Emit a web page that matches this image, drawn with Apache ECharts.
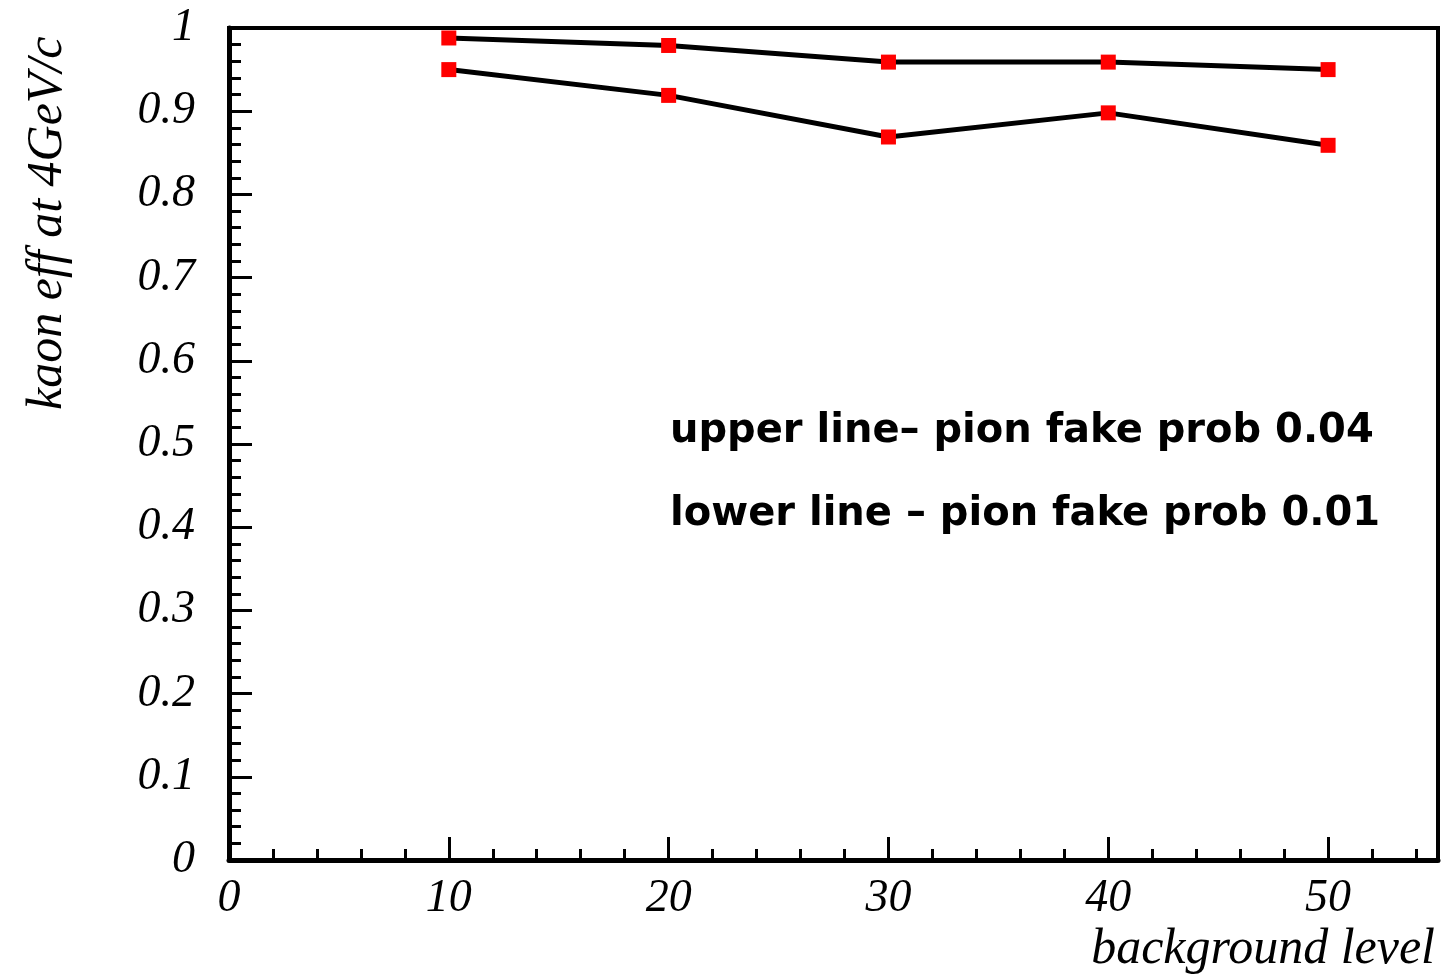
<!DOCTYPE html>
<html>
<head>
<meta charset="utf-8">
<script src="https://cdn.jsdelivr.net/npm/echarts@6/dist/echarts.min.js"></script>
<style>
html,body{margin:0;padding:0;background:#fff;}
#chart{width:1453px;height:979px;}
</style>
</head>
<body>
<div id="chart"></div>
<script>
const backgroundLevels = [10, 20, 30, 40, 50];
const upperLine = [0.988, 0.979, 0.959, 0.959, 0.950];
const lowerLine = [0.950, 0.919, 0.869, 0.898, 0.859];
const xTitle = 'background level';
const yTitle = 'kaon eff at 4GeV/c';
const noteUpper = 'upper line\u2013 pion fake prob 0.04';
const noteLower = 'lower line \u2013 pion fake prob 0.01';

const chart = echarts.init(document.getElementById('chart'), null, {renderer: 'canvas'});
const serif = "'Times New Roman', 'Liberation Serif', Tinos, serif";
const pairs = arr => backgroundLevels.map((x, i) => [x, arr[i]]);

const seriesStyle = {
  type: 'line',
  xAxisIndex: 0,
  yAxisIndex: 0,
  symbol: 'rect',
  symbolSize: 15,
  itemStyle: {color: '#ff0000'},
  lineStyle: {color: '#000', width: 5},
  z: 3,
  animation: false
};

chart.setOption({
  animation: false,
  backgroundColor: '#fff',
  grid: {left: 229, right: 15, top: 28, bottom: 119, show: true, borderColor: '#000', borderWidth: 4, backgroundColor: 'transparent'},
  xAxis: [
    {
      type: 'value', min: 0, max: 55, interval: 10, position: 'bottom',
      axisLine: {show: true, onZero: false, lineStyle: {color: '#000', width: 5}},
      axisTick: {show: true, inside: true, length: 23, lineStyle: {color: '#000', width: 3}},
      axisLabel: {show: true, margin: 16, color: '#000', fontFamily: serif, fontStyle: 'italic', fontSize: 46,
        formatter: v => (v % 10 === 0 ? String(v) : '')},
      splitLine: {show: false}
    },
    {
      type: 'value', min: 0, max: 55, interval: 2, position: 'bottom',
      axisLine: {show: false},
      axisTick: {show: true, inside: true, length: 11, lineStyle: {color: '#000', width: 3}},
      axisLabel: {show: false},
      splitLine: {show: false}
    }
  ],
  yAxis: {
    type: 'value', min: 0, max: 1, interval: 0.1,
    axisLine: {show: true, onZero: false, lineStyle: {color: '#000', width: 5}},
    axisTick: {show: true, inside: true, length: 23, lineStyle: {color: '#000', width: 3}},
    minorTick: {show: true, splitNumber: 5, length: 12, lineStyle: {color: '#000', width: 3}},
    axisLabel: {margin: 34, color: '#000', fontFamily: serif, fontStyle: 'italic', fontSize: 46},
    splitLine: {show: false},
    minorSplitLine: {show: false}
  },
  series: [
    Object.assign({name: 'upper line', data: pairs(upperLine)}, seriesStyle),
    Object.assign({name: 'lower line', data: pairs(lowerLine)}, seriesStyle)
  ],
  graphic: [
    {type: 'text', x: 1435, y: 950, style: {text: xTitle, fill: '#000', fontFamily: serif, fontStyle: 'italic', fontSize: 50, align: 'right', verticalAlign: 'middle'}},
    {type: 'text', x: 48, y: 410, rotation: Math.PI / 2, style: {text: yTitle, fill: '#000', fontFamily: serif, fontStyle: 'italic', fontSize: 50, align: 'left', verticalAlign: 'middle'}},
    {type: 'text', x: 670, y: 432, style: {text: noteUpper, fill: '#000', fontFamily: 'DejaVu Sans', fontWeight: 'bold', fontSize: 40, align: 'left', verticalAlign: 'middle'}},
    {type: 'text', x: 670, y: 515, style: {text: noteLower, fill: '#000', fontFamily: 'DejaVu Sans', fontWeight: 'bold', fontSize: 40, align: 'left', verticalAlign: 'middle'}}
  ]
});
</script>
</body>
</html>
